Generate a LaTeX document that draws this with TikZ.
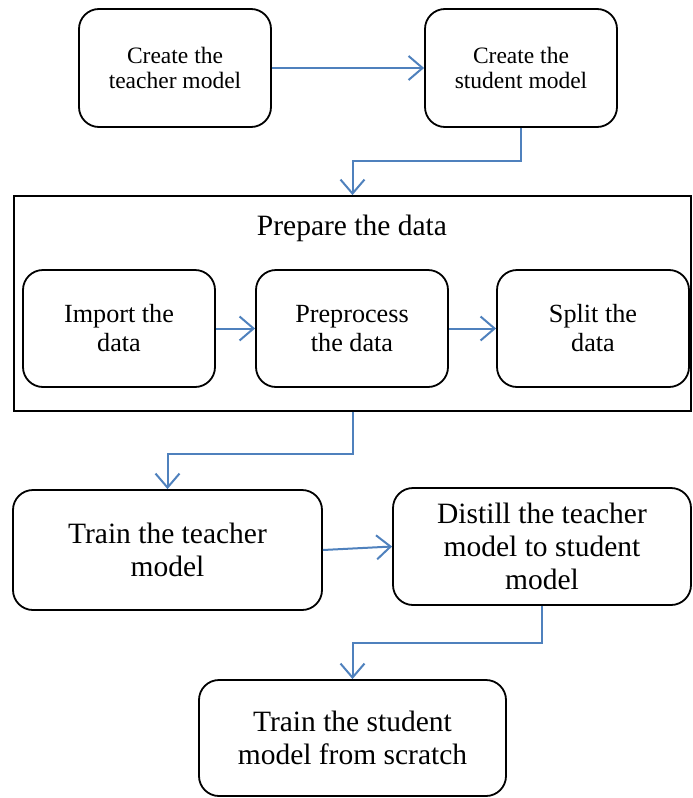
\documentclass[tikz,border=0pt]{standalone}
\usepackage{fontspec}
\setmainfont{Liberation Serif}
\usetikzlibrary{arrows.meta}
\definecolor{flowblue}{RGB}{79,129,189}

\begin{document}
\begin{tikzpicture}[x=1pt, y=-1pt,
        box/.style={draw, line width=1.8pt, rounded corners=20pt, align=center, inner sep=0pt},
        flow/.style={draw=flowblue, line width=2pt, -{Straight Barb[length=14pt,width=24pt]}}]
        \useasboundingbox (0,0) rectangle (693,798);

        \node[box, minimum width=192pt, minimum height=118pt, font=\fontsize{23.5}{25}\selectfont] (makeT) at (175,68) {Create the\\teacher model};
        \node[box, minimum width=192pt, minimum height=118pt, font=\fontsize{23.5}{25}\selectfont] (makeS) at (521,68) {Create the\\student model};

        % data preparation block
        \node[draw, line width=1.8pt, minimum width=677pt, minimum height=215pt, inner sep=0pt] (prep) at (352.5,303.5) {};
        \node[font=\fontsize{29.5}{32}\selectfont] (prepTitle) at (352,228) {Prepare the data};
        \node[box, minimum width=192pt, minimum height=117pt, font=\fontsize{26.2}{29}\selectfont] (import) at (119,328.5) {Import the\\data};
        \node[box, minimum width=192pt, minimum height=117pt, font=\fontsize{26.2}{29}\selectfont] (preproc) at (352,328.5) {Preprocess\\the data};
        \node[box, minimum width=192pt, minimum height=117pt, font=\fontsize{26.2}{29}\selectfont] (split) at (593,328.5) {Split the\\data};

        \node[box, minimum width=309pt, minimum height=120pt, font=\fontsize{29.5}{33}\selectfont] (trainT) at (167.5,550) {Train the teacher\\model};
        \node[box, minimum width=298pt, minimum height=117pt, font=\fontsize{29.5}{33}\selectfont] (distill) at (542,546.5) {Distill the teacher\\model to student\\model};
        \node[box, minimum width=307pt, minimum height=116pt, font=\fontsize{29.5}{33}\selectfont] (trainS) at (352.5,738) {Train the student\\model from scratch};

        \draw[flow] (makeT.east) -- (makeS.west);
        \draw[flow] (makeS.south) -- ++(0,33) -| (prep.north);
        \draw[flow] (import.east) -- (preproc.west);
        \draw[flow] (preproc.east) -- (split.west);
        \draw[flow] (prep.south) -- ++(0,42) -| (trainT.north);
        \draw[flow] (trainT.east) -- (distill.west);
        \draw[flow] (distill.south) -- ++(0,37) -| (trainS.north);
    \end{tikzpicture}
\end{document}
